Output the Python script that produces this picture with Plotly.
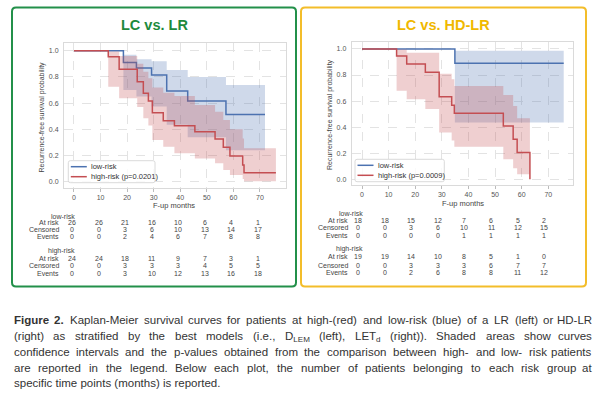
import re
import plotly.graph_objects as go

# ---------------- data ----------------
MONTH_TICKS = [0, 10, 20, 30, 40, 50, 60, 70]
Y_TICKS = [0.0, 0.2, 0.4, 0.6, 0.8, 1.0]

# Panel A : LC vs. LR
a_low_t = [0, 18.6, 23.5, 29.2, 34.9, 42.8, 57.2, 71.9]
a_low_s = [1.0, 0.911, 0.868, 0.814, 0.692, 0.616, 0.514, 0.514]
a_low_ci_t = [18.6, 23.5, 29.2, 34.9, 42.8, 57.2, 71.9]
a_low_ci_hi = [0.97, 0.935, 0.92, 0.852, 0.80, 0.738, 0.738]
a_low_ci_lo = [0.70, 0.65, 0.575, 0.435, 0.34, 0.24, 0.24]

a_high_t = [0, 12.9, 17.0, 23.8, 26.1, 28.0, 29.5, 33.6, 37.8, 45.5, 53.1, 56.2, 58.7, 63.5, 64.0, 76.0]
a_high_s = [1.0, 0.954, 0.858, 0.763, 0.675, 0.616, 0.527, 0.466, 0.428, 0.382, 0.326, 0.263, 0.196, 0.127, 0.069, 0.069]
a_high_ci_t = [12.9, 17.0, 23.8, 26.1, 28.0, 29.5, 33.6, 37.8, 45.5, 53.1, 56.2, 58.7, 63.5, 64.0, 76.0]
a_high_ci_hi = [0.995, 0.96, 0.90, 0.84, 0.79, 0.72, 0.68, 0.655, 0.585, 0.534, 0.471, 0.40, 0.33, 0.255, 0.255]
a_high_ci_lo = [0.725, 0.637, 0.57, 0.484, 0.43, 0.318, 0.267, 0.217, 0.178, 0.14, 0.089, 0.051, 0.02, 0.003, 0.003]

a_low_at_risk = [26, 26, 21, 16, 10, 6, 4, 1]
a_low_censored = [0, 0, 3, 6, 10, 13, 14, 17]
a_low_events = [0, 0, 2, 4, 6, 7, 8, 8]
a_high_at_risk = [24, 24, 18, 11, 9, 7, 3, 1]
a_high_censored = [0, 0, 3, 3, 3, 4, 5, 5]
a_high_events = [0, 0, 3, 10, 12, 13, 16, 18]

# Panel B : LC vs. HD-LR
b_low_t = [0, 34.9, 75.8]
b_low_s = [1.0, 0.89, 0.89]
b_low_ci_t = [34.9, 75.8]
b_low_ci_hi = [0.987, 0.987]
b_low_ci_lo = [0.435, 0.435]

b_high_t = [0, 13.0, 16.8, 23.8, 29.0, 33.7, 34.7, 53.1, 56.8, 58.3, 63.1]
b_high_s = [1.0, 0.946, 0.885, 0.821, 0.634, 0.568, 0.506, 0.409, 0.307, 0.205, 0.0]
b_high_ci_t = [13.0, 16.8, 23.8, 29.0, 33.7, 34.7, 53.1, 56.8, 58.3, 63.1]
b_high_ci_hi = [0.995, 0.97, 0.97, 0.81, 0.767, 0.716, 0.647, 0.563, 0.468, 0.468]
b_high_ci_lo = [0.68, 0.614, 0.54, 0.358, 0.297, 0.25, 0.153, 0.084, 0.038, 0.038]

b_low_at_risk = [18, 18, 15, 12, 7, 6, 5, 2]
b_low_censored = [0, 0, 3, 6, 10, 11, 12, 15]
b_low_events = [0, 0, 0, 0, 1, 1, 1, 1]
b_high_at_risk = [19, 19, 14, 10, 8, 5, 1, 0]
b_high_censored = [0, 0, 3, 3, 3, 6, 7, 7]
b_high_events = [0, 0, 2, 6, 8, 8, 11, 12]

legend_a = ["low-risk", "high-risk (p=0.0201)"]
legend_b = ["low-risk", "high-risk (p=0.0009)"]

caption_lines = [
    "<b>Figure</b> <b>2.</b> Kaplan-Meier survival curves for patients at high-(red) and low-risk (blue) of a LR (left) or HD-LR",
    "(right) as stratified by the best models (i.e., D<sub>LEM</sub> (left), LET<sub>d</sub> (right)). Shaded areas show curves",
    "confidence intervals and the p-values obtained from the comparison between high- and low- risk patients",
    "are reported in the legend. Below each plot, the number of patients belonging to each risk group at",
    "specific time points (months) is reported.",
]

# ---------------- styling ----------------
W, H = 601, 401
FONT = "Liberation Sans, Arial, sans-serif"
BLUE = "#4c72b0"
RED = "#c44e52"
BLUE_F = "rgba(76,114,176,0.27)"
RED_F = "rgba(196,78,82,0.27)"
GREEN = "#23904a"
GOLD = "#f3bd2a"
TXT = "#444444"


def px(x):
    return x / W


def py(y):
    return 1 - y / H


fig = go.Figure()


def add_km(xa, ya, t, s, ci_t, hi, lo, color, fillc):
    fig.add_trace(go.Scatter(x=ci_t, y=lo, mode="lines", line=dict(width=0, shape="hv"),
                             xaxis=xa, yaxis=ya, showlegend=False, hoverinfo="skip"))
    fig.add_trace(go.Scatter(x=ci_t, y=hi, mode="lines", line=dict(width=0, shape="hv"),
                             fill="tonexty", fillcolor=fillc,
                             xaxis=xa, yaxis=ya, showlegend=False, hoverinfo="skip"))
    fig.add_trace(go.Scatter(x=t, y=s, mode="lines", line=dict(color=color, width=1.5, shape="hv"),
                             xaxis=xa, yaxis=ya, showlegend=False))


add_km("x", "y", a_low_t, a_low_s, a_low_ci_t, a_low_ci_hi, a_low_ci_lo, BLUE, BLUE_F)
add_km("x", "y", a_high_t, a_high_s, a_high_ci_t, a_high_ci_hi, a_high_ci_lo, RED, RED_F)
add_km("x2", "y2", b_low_t, b_low_s, b_low_ci_t, b_low_ci_hi, b_low_ci_lo, BLUE, BLUE_F)
add_km("x2", "y2", b_high_t, b_high_s, b_high_ci_t, b_high_ci_hi, b_high_ci_lo, RED, RED_F)

# plot geometry (pixels)
PA = dict(l=64, r=286, t=43, b=188, xr=[-3.76, 79.8], yr=[-0.048, 1.059])
PB = dict(l=351.7, r=573.3, t=42.3, b=185, xr=[-3.87, 79.4], yr=[-0.044, 1.051])

axis_common = dict(showline=True, mirror=True, linecolor="#dadada", linewidth=1,
                   showgrid=True, gridcolor="#e3e3e3", griddash="dash", gridwidth=0.8,
                   zeroline=False, tickfont=dict(size=7, color="#555555", family=FONT),
                   ticks="outside", ticklen=3)

fig.update_layout(
    xaxis=dict(domain=[px(PA["l"]), px(PA["r"])], range=PA["xr"], anchor="y",
               tickvals=MONTH_TICKS, tickcolor="#bbbbbb", **axis_common),
    yaxis=dict(domain=[py(PA["b"]), py(PA["t"])], range=PA["yr"], anchor="x",
               tickvals=Y_TICKS, tickformat=".1f", tickcolor="rgba(0,0,0,0)", **axis_common),
    xaxis2=dict(domain=[px(PB["l"]), px(PB["r"])], range=PB["xr"], anchor="y2",
                tickvals=MONTH_TICKS, tickcolor="#bbbbbb", **axis_common),
    yaxis2=dict(domain=[py(PB["b"]), py(PB["t"])], range=PB["yr"], anchor="x2",
                tickvals=Y_TICKS, tickformat=".1f", tickcolor="rgba(0,0,0,0)", **axis_common),
)


def rrect(x0, y0, x1, y1, r):
    path = (f"M {px(x0 + r)},{py(y0)} L {px(x1 - r)},{py(y0)} Q {px(x1)},{py(y0)} {px(x1)},{py(y0 + r)} "
            f"L {px(x1)},{py(y1 - r)} Q {px(x1)},{py(y1)} {px(x1 - r)},{py(y1)} "
            f"L {px(x0 + r)},{py(y1)} Q {px(x0)},{py(y1)} {px(x0)},{py(y1 - r)} "
            f"L {px(x0)},{py(y0 + r)} Q {px(x0)},{py(y0)} {px(x0 + r)},{py(y0)} Z")
    return path


shapes = []
annotations = []


def ann(text, x, y, size, color=TXT, xanchor="center", yanchor="middle", xref="paper", **kw):
    d = dict(text=text, x=x, y=y, xref=xref, yref="paper", xanchor=xanchor, yanchor=yanchor,
             showarrow=False, borderpad=0, font=dict(size=size, color=color, family=FONT))
    d.update(kw)
    annotations.append(d)


# panel borders
shapes.append(dict(type="path", path=rrect(12, 7.5, 296, 286.5, 4), xref="paper", yref="paper",
                   line=dict(color=GREEN, width=2), layer="below"))
shapes.append(dict(type="path", path=rrect(301, 7.5, 586, 286.5, 4), xref="paper", yref="paper",
                   line=dict(color=GOLD, width=2), layer="below"))

# titles
ann("<b>LC vs. LR</b>", px(154), py(25), 14.5, color="#1e8a3c")
ann("<b>LC vs. HD-LR</b>", px(443), py(25), 14.5, color="#f0b800")

# axis titles
for cx, cy in [(41.5, 117), (330, 115)]:
    ann("Recurrence-free survival probability", px(cx), py(cy), 7, textangle=-90)
for cx, cy in [(174, 205), (463, 203.3)]:
    ann("F-up months", px(cx), py(cy), 7.5)

# legends (drawn manually)
for (bx0, by0, bx1, by1), labels in [((68.3, 160.7, 155, 182.7), legend_a),
                                     ((355, 159.3, 444.3, 181.7), legend_b)]:
    shapes.append(dict(type="path", path=rrect(bx0, by0, bx1, by1, 2), xref="paper", yref="paper",
                       line=dict(color="#d0d0d0", width=0.8), fillcolor="rgba(255,255,255,0.8)",
                       layer="above"))
    for i, (lab, col) in enumerate(zip(labels, [BLUE, RED])):
        ly = by0 + 6 + i * 10
        shapes.append(dict(type="line", x0=px(bx0 + 2.5), x1=px(bx0 + 18.5), y0=py(ly), y1=py(ly),
                           xref="paper", yref="paper", line=dict(color=col, width=1.5), layer="above"))
        ann(lab, px(bx0 + 21.5), py(ly), 7.5, color="#333333", xanchor="left")


# at-risk tables
def add_table(xref, rows_y, hdr_right, lab_right, xshift, low_rows, high_rows):
    groups = [("low-risk", low_rows, rows_y[0:4]), ("high-risk", high_rows, rows_y[4:8])]
    for gname, rows, ys in groups:
        ann(gname, px(hdr_right), py(ys[0]), 7, xanchor="right")
        for rlab, vals, yy in zip(["At risk", "Censored", "Events"], rows, ys[1:]):
            ann(rlab, px(lab_right), py(yy), 7, xanchor="right")
            for t, v in zip(MONTH_TICKS, vals):
                ann(str(v), t, py(yy), 7, xref=xref, xshift=xshift)


add_table("x", [216, 222.5, 229.5, 236.8, 251.4, 258.3, 265.5, 273], 75.5, 60.5, -2,
          [a_low_at_risk, a_low_censored, a_low_events],
          [a_high_at_risk, a_high_censored, a_high_events])
add_table("x2", [213.3, 220, 227.7, 235.3, 249.3, 256.7, 265, 272.3], 363.5, 348.5, -4,
          [b_low_at_risk, b_low_censored, b_low_events],
          [b_high_at_risk, b_high_censored, b_high_events])

# ---------------- caption (justified) ----------------
REG = {}
for chars, w in [("ijl", 222), (" !,./:;Ift[]\\", 278), ("()-r`", 333), ("cksvxyzJ", 500),
                 ("abdeghnopqu0123456789L?_$#", 556), ("+<=>", 584), ("FTZ", 611),
                 ("ABEKPSVXY&", 667), ("CDHNRUw", 722), ("GOQ", 778), ("mM", 833),
                 ("%", 889), ("W", 944), ("'", 191), ('"', 355), ("@", 1015)]:
    for c in chars:
        REG[c] = w
BOLD = {"F": 611, "i": 278, "g": 611, "u": 611, "r": 389, "e": 556, "2": 556, ".": 278, " ": 278}

CAP_SIZE = 11.5
CAP_L, CAP_R = 12.7, 593
cap_y = [320.5, 336.5, 352.2, 368, 383.5]


def word_width(word, size):
    w = 0
    for tag, inner, plain in re.findall(r"<(b|sub)>(.*?)</\1>|([^<]+)", word):
        if tag == "b":
            w += sum(BOLD.get(c, REG.get(c, 556)) for c in inner) * size / 1000
        elif tag == "sub":
            w += sum(REG.get(c, 556) for c in inner) * size * 0.7 / 1000
        else:
            w += sum(REG.get(c, 556) for c in plain) * size / 1000
    return w


for li, line in enumerate(caption_lines):
    yc = cap_y[li]
    if li == len(caption_lines) - 1:
        ann(line, px(CAP_L), py(yc - 7.2), CAP_SIZE, color="#333333", xanchor="left", yanchor="top")
        continue
    words = line.split(" ")
    widths = [word_width(w, CAP_SIZE) for w in words]
    gap = (CAP_R - CAP_L - sum(widths)) / (len(words) - 1)
    x = CAP_L
    for i, (wd, ww) in enumerate(zip(words, widths)):
        last = i == len(words) - 1
        ann(wd, px(CAP_R if last else x), py(yc - 7.2), CAP_SIZE, color="#333333",
            xanchor="right" if last else "left", yanchor="top")
        x += ww + gap

fig.update_layout(
    width=W, height=H, autosize=False,
    margin=dict(l=0, r=0, t=0, b=0),
    paper_bgcolor="white", plot_bgcolor="white",
    showlegend=False,
    shapes=shapes, annotations=annotations,
    font=dict(family=FONT),
)

fig.write_html("out.html", config={"displayModeBar": False},
               post_script="document.body.style.margin='0';document.body.style.overflow='hidden';")
